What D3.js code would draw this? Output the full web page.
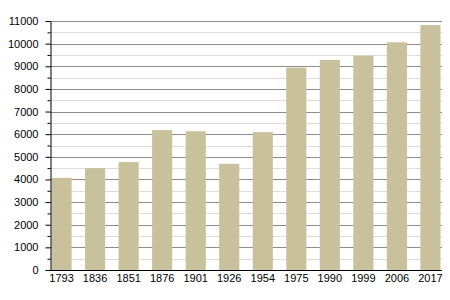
<!DOCTYPE html>
<html>
<head>
<meta charset="utf-8">
<script src="https://cdn.jsdelivr.net/npm/d3@7"></script>
<style>
  body { margin: 0; background: #fff; }
  svg { display: block; font-family: "Liberation Sans", Arial, sans-serif; }
</style>
</head>
<body>
<svg id="chart"></svg>
<script>
const years = ['1793', '1836', '1851', '1876', '1901', '1926', '1954', '1975', '1990', '1999', '2006', '2017'];
const population = [4070, 4500, 4770, 6180, 6130, 4690, 6090, 8940, 9280, 9470, 10060, 10820];
const majorTicks = [0, 1000, 2000, 3000, 4000, 5000, 6000, 7000, 8000, 9000, 10000, 11000];
const minorTicks = [500, 1500, 2500, 3500, 4500, 5500, 6500, 7500, 8500, 9500, 10500];

const width = 450;
const height = 300;
const plotLeft = 50, plotRight = 442, plotTop = 21, plotBottom = 270;

const svg = d3.select('#chart')
    .attr('width', width)
    .attr('height', height);

const x = d3.scaleBand()
    .domain(years)
    .range([plotLeft, plotRight])
    .paddingInner(0.4)
    .paddingOuter(0.045);

const y = d3.scaleLinear()
    .domain([0, 11000])
    .range([plotBottom, plotTop]);

// minor grid (light)
svg.append('g')
    .selectAll('line')
    .data(minorTicks)
    .join('line')
    .attr('x1', plotLeft).attr('x2', plotRight)
    .attr('y1', d => Math.round(y(d)) + 0.5)
    .attr('y2', d => Math.round(y(d)) + 0.5)
    .attr('stroke', '#dcdcdc');

// major grid
svg.append('g')
    .selectAll('line')
    .data(majorTicks.slice(1))
    .join('line')
    .attr('x1', plotLeft).attr('x2', plotRight)
    .attr('y1', d => Math.round(y(d)) + 0.5)
    .attr('y2', d => Math.round(y(d)) + 0.5)
    .attr('stroke', '#8c8c8c');

// bars
svg.append('g')
    .selectAll('rect')
    .data(population)
    .join('rect')
    .attr('x', (d, i) => x(years[i]))
    .attr('y', d => y(d))
    .attr('width', x.bandwidth())
    .attr('height', d => plotBottom - y(d))
    .attr('fill', '#c9c19b');

// y axis with major and minor ticks
svg.append('g')
    .attr('transform', `translate(${plotLeft + 0.5},0)`)
    .call(d3.axisLeft(y).tickValues(majorTicks).tickSize(5).tickSizeOuter(0).tickFormat(d3.format('d')))
    .call(g => g.select('.domain').attr('stroke', '#000'))
    .call(g => g.selectAll('.tick text').attr('font-size', 11).attr('fill', '#000').attr('x', -12))
    .call(g => g.attr('font-family', null));

svg.append('g')
    .attr('transform', `translate(${plotLeft + 0.5},0)`)
    .call(d3.axisLeft(y).tickValues(minorTicks).tickSize(3).tickFormat(''))
    .call(g => g.select('.domain').remove());

// x axis
svg.append('g')
    .attr('transform', `translate(0,${plotBottom + 0.5})`)
    .call(d3.axisBottom(x).tickSize(0).tickSizeOuter(0).tickPadding(4))
    .call(g => g.select('.domain').attr('stroke', '#000').attr('d', `M${plotLeft},0H${plotRight}`))
    .call(g => g.selectAll('.tick text').attr('font-size', 11).attr('fill', '#000'))
    .call(g => g.attr('font-family', null));
</script>
</body>
</html>
